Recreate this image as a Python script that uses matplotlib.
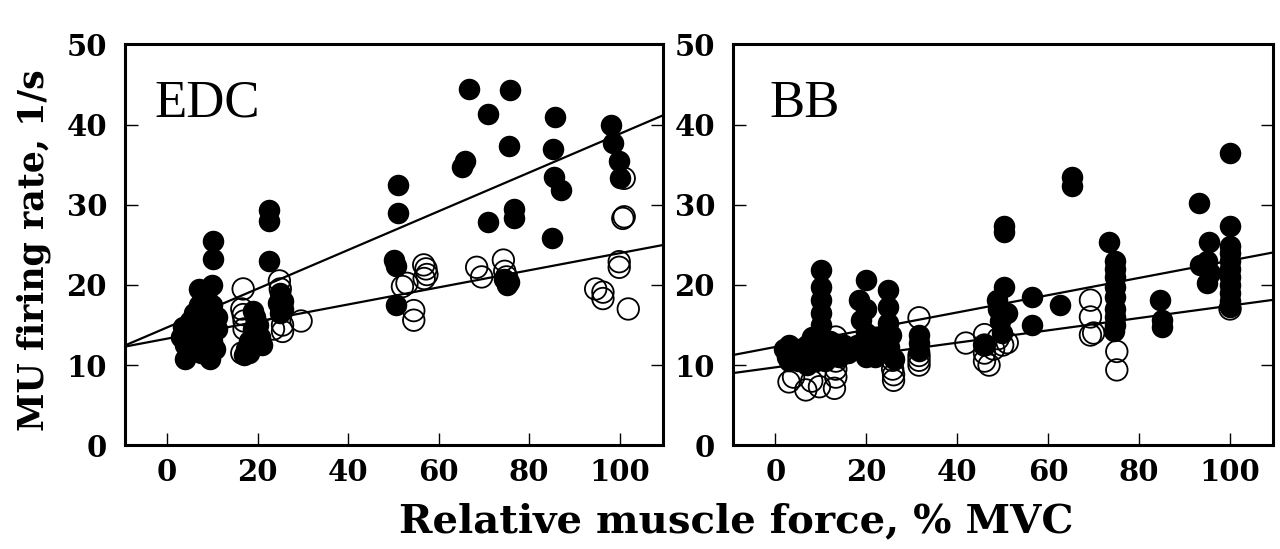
import matplotlib
matplotlib.use("Agg")
import matplotlib.pyplot as plt
import numpy as np

# EDC - filled circles (x: % MVC, y: firing rate 1/s)
edc_filled_x = [3, 3.5, 4, 4, 4.5, 5, 5, 6, 6, 6.5, 7, 7, 7, 7.5, 8, 8, 8.5, 9, 9, 9, 9.5, 10, 10, 10, 10.2, 10.2, 10, 11, 11, 10.5,
                17, 17.5, 18, 19, 19.5, 20, 20.5, 21, 18, 19,
                22.6, 22.6, 22.6, 25, 25.5, 25.5, 25, 24.5,
                51, 51, 50.2, 50.5, 50.5,
                65.1, 65.9, 66.6, 70.8, 71, 75.8, 75.6, 76.6, 76.6, 74.5, 75, 75.5,
                85.6, 85.3, 85.5, 87, 85.1,
                98.1, 98.5, 99.9, 100]
edc_filled_y = [13.5, 14.8, 12.5, 10.8, 14, 13, 15.5, 12, 16.5, 14, 17.5, 19.5, 13, 11.5, 15, 18.5, 12.5, 19.5, 16, 14, 10.8, 17.5, 13, 15, 23.2, 25.5, 20, 14.5, 16, 12,
                11.2, 12, 13, 14.5, 16, 15, 13.5, 12.5, 11.5, 16.8,
                29.3, 28, 23, 19, 18, 17, 16.5, 17.8,
                32.5, 29, 23.1, 22.4, 17.5,
                34.7, 35.4, 44.5, 41.3, 27.9, 44.3, 37.3, 29.5, 28.3, 20.8, 20, 20.4,
                41, 37, 33.5, 31.8, 25.8,
                40, 37.7, 35.5, 33.3]

# EDC - open circles
edc_open_x = [16.8, 16.5, 16.8, 17, 17, 16.5, 24.8, 25, 25.5, 25.5, 29.6, 23.5,
              53, 54.5, 54.5, 56.7, 57.2, 57.4, 56.8, 52,
              68.4, 69.5, 74.3, 74.6, 75,
              94.7, 96.3, 96.3, 99.9, 99.9, 100.7, 101, 101, 101.9]
edc_open_y = [19.5, 17, 16.3, 15.5, 14.5, 11.5, 20.5, 19.5, 15, 14.2, 15.5, 14.5,
              20.2, 16.8, 15.6, 22.5, 22, 21.3, 20.8, 19.8,
              22.2, 21, 23.1, 21.7, 21,
              19.5, 19.1, 18.3, 22.9, 22.2, 28.3, 28.5, 33.3, 17]

# BB - filled circles
bb_filled_x = [2, 2.5, 3, 3, 4, 5, 5, 6, 7, 7, 8, 8, 9, 9, 10, 10, 10, 10, 10, 10, 11, 11, 12, 12, 13, 14, 15, 16, 17, 18,
               18.4, 18.8, 19.9, 20, 20, 20, 21, 22, 22, 24.7, 24.7, 24.7, 25, 26, 25.5, 31.5, 31.5, 31.5,
               46, 48.7, 49, 49.5, 49.8, 50.3, 50.3, 50.3, 51, 56.5, 56.5,
               62.7, 65.3, 65.3,
               73.3, 74.8, 74.8, 74.8, 74.8, 74.8, 74.8, 74.8, 74.8, 74.4,
               84.7, 85, 85,
               93.1, 95.3, 93.5, 95, 95.5, 95,
               100, 100, 100, 100, 100, 100, 100, 100, 100, 100, 100]
bb_filled_y = [12, 11, 12.5, 10.5, 11.5, 12, 10.5, 11, 12.5, 10, 11.5, 13.5, 12, 10.5, 21.9, 19.8, 18.1, 16.5, 15, 13.5, 12, 10.5, 11.5, 13, 12, 11, 12.5, 11.5, 12, 12.5,
               18.1, 15.6, 20.6, 17, 14, 11, 12, 13.5, 11, 19.4, 17.3, 15.2, 12.3, 10.8, 13.8, 13.8, 12.8, 11.8,
               12.5, 18.1, 17, 15.5, 14, 19.8, 27.3, 26.6, 16.5, 18.5, 15,
               17.5, 33.5, 32.3,
               25.4, 23, 22, 21, 19.8, 18.5, 17, 16, 15, 14.3,
               18.1, 15.6, 14.8,
               30.2, 25.4, 22.5, 23, 21.5, 20.3,
               36.5, 27.3, 24.8, 24, 23, 22, 21, 20, 19, 18, 17.3]

# BB - open circles
bb_open_x = [3, 6.7, 9.7, 13, 4, 8, 13.3, 13.3, 13.3, 13.3, 13.3, 13.3, 25.8, 25.8, 26, 26, 31.6, 31.6, 31.6, 31.6,
             41.9, 46, 46, 46, 46, 47, 48, 49, 50, 51,
             69.3, 69.3, 69.3, 70, 75.1, 75.1, 100]
bb_open_y = [7.9, 6.9, 7.3, 7.1, 8.5, 8, 13.5, 12.5, 11.5, 10.5, 9.5, 8.5, 10.6, 9.5, 8.8, 8.1, 15.9, 11.2, 10.6, 10,
             12.75, 13.8, 12.5, 11.5, 10.5, 10, 12, 13.3, 12.5, 12.8,
             18.1, 16, 13.75, 14, 11.7, 9.4, 17]

# regression lines (slope, intercept)
edc_fit_filled = (0.2415, 14.7)
edc_fit_open = (0.1066, 13.3)
bb_fit_filled = (0.1077, 12.26)
bb_fit_open = (0.0769, 9.72)

x_ticks = [0, 20, 40, 60, 80, 100]
y_ticks = [0, 10, 20, 30, 40, 50]

serif_bold = dict(family="DejaVu Serif", weight="bold")

fig = plt.figure(figsize=(12.8, 5.49), dpi=100)
ax1 = fig.add_axes([0.0977, 0.189, 0.420, 0.730])
ax2 = fig.add_axes([0.5727, 0.189, 0.422, 0.730])

panels = [
    (ax1, "EDC", edc_filled_x, edc_filled_y, edc_open_x, edc_open_y, edc_fit_filled, edc_fit_open, 0.055),
    (ax2, "BB", bb_filled_x, bb_filled_y, bb_open_x, bb_open_y, bb_fit_filled, bb_fit_open, 0.068),
]

for ax, name, fx, fy, ox, oy, fit1, fit2, lx in panels:
    xl = np.array([-9.3, 109.5])
    for slope, icpt in (fit1, fit2):
        ax.plot(xl, slope * xl + icpt, color="black", lw=1.6, zorder=2)
    ax.scatter(ox, oy, s=240, facecolors="none", edgecolors="black", linewidths=1.3, zorder=3)
    ax.scatter(fx, fy, s=240, color="black", linewidths=0, zorder=4)
    ax.set_xlim(-9.3, 109.5)
    ax.set_ylim(0, 50)
    ax.set_xticks(x_ticks)
    ax.set_yticks(y_ticks)
    ax.tick_params(direction="in", length=9, width=1.0, left=True, right=True,
                   top=False, bottom=True, labelsize=21, pad=9)
    ax.tick_params(axis="y", pad=13)
    for lab in ax.get_xticklabels() + ax.get_yticklabels():
        lab.set_fontfamily("DejaVu Serif")
        lab.set_fontweight("bold")
    for sp in ax.spines.values():
        sp.set_linewidth(2.2)
    ax.text(lx, 0.82, name, transform=ax.transAxes, family="Liberation Serif",
            fontsize=38, va="baseline", ha="left")

fig.text(0.026, 0.545, "MU firing rate, 1/s", rotation=90, ha="center", va="center",
         fontsize=25, **serif_bold)
fig.text(0.575, 0.05, "Relative muscle force, % MVC", ha="center", va="center",
         fontsize=29, **serif_bold)

fig.savefig("out.png", dpi=100)
